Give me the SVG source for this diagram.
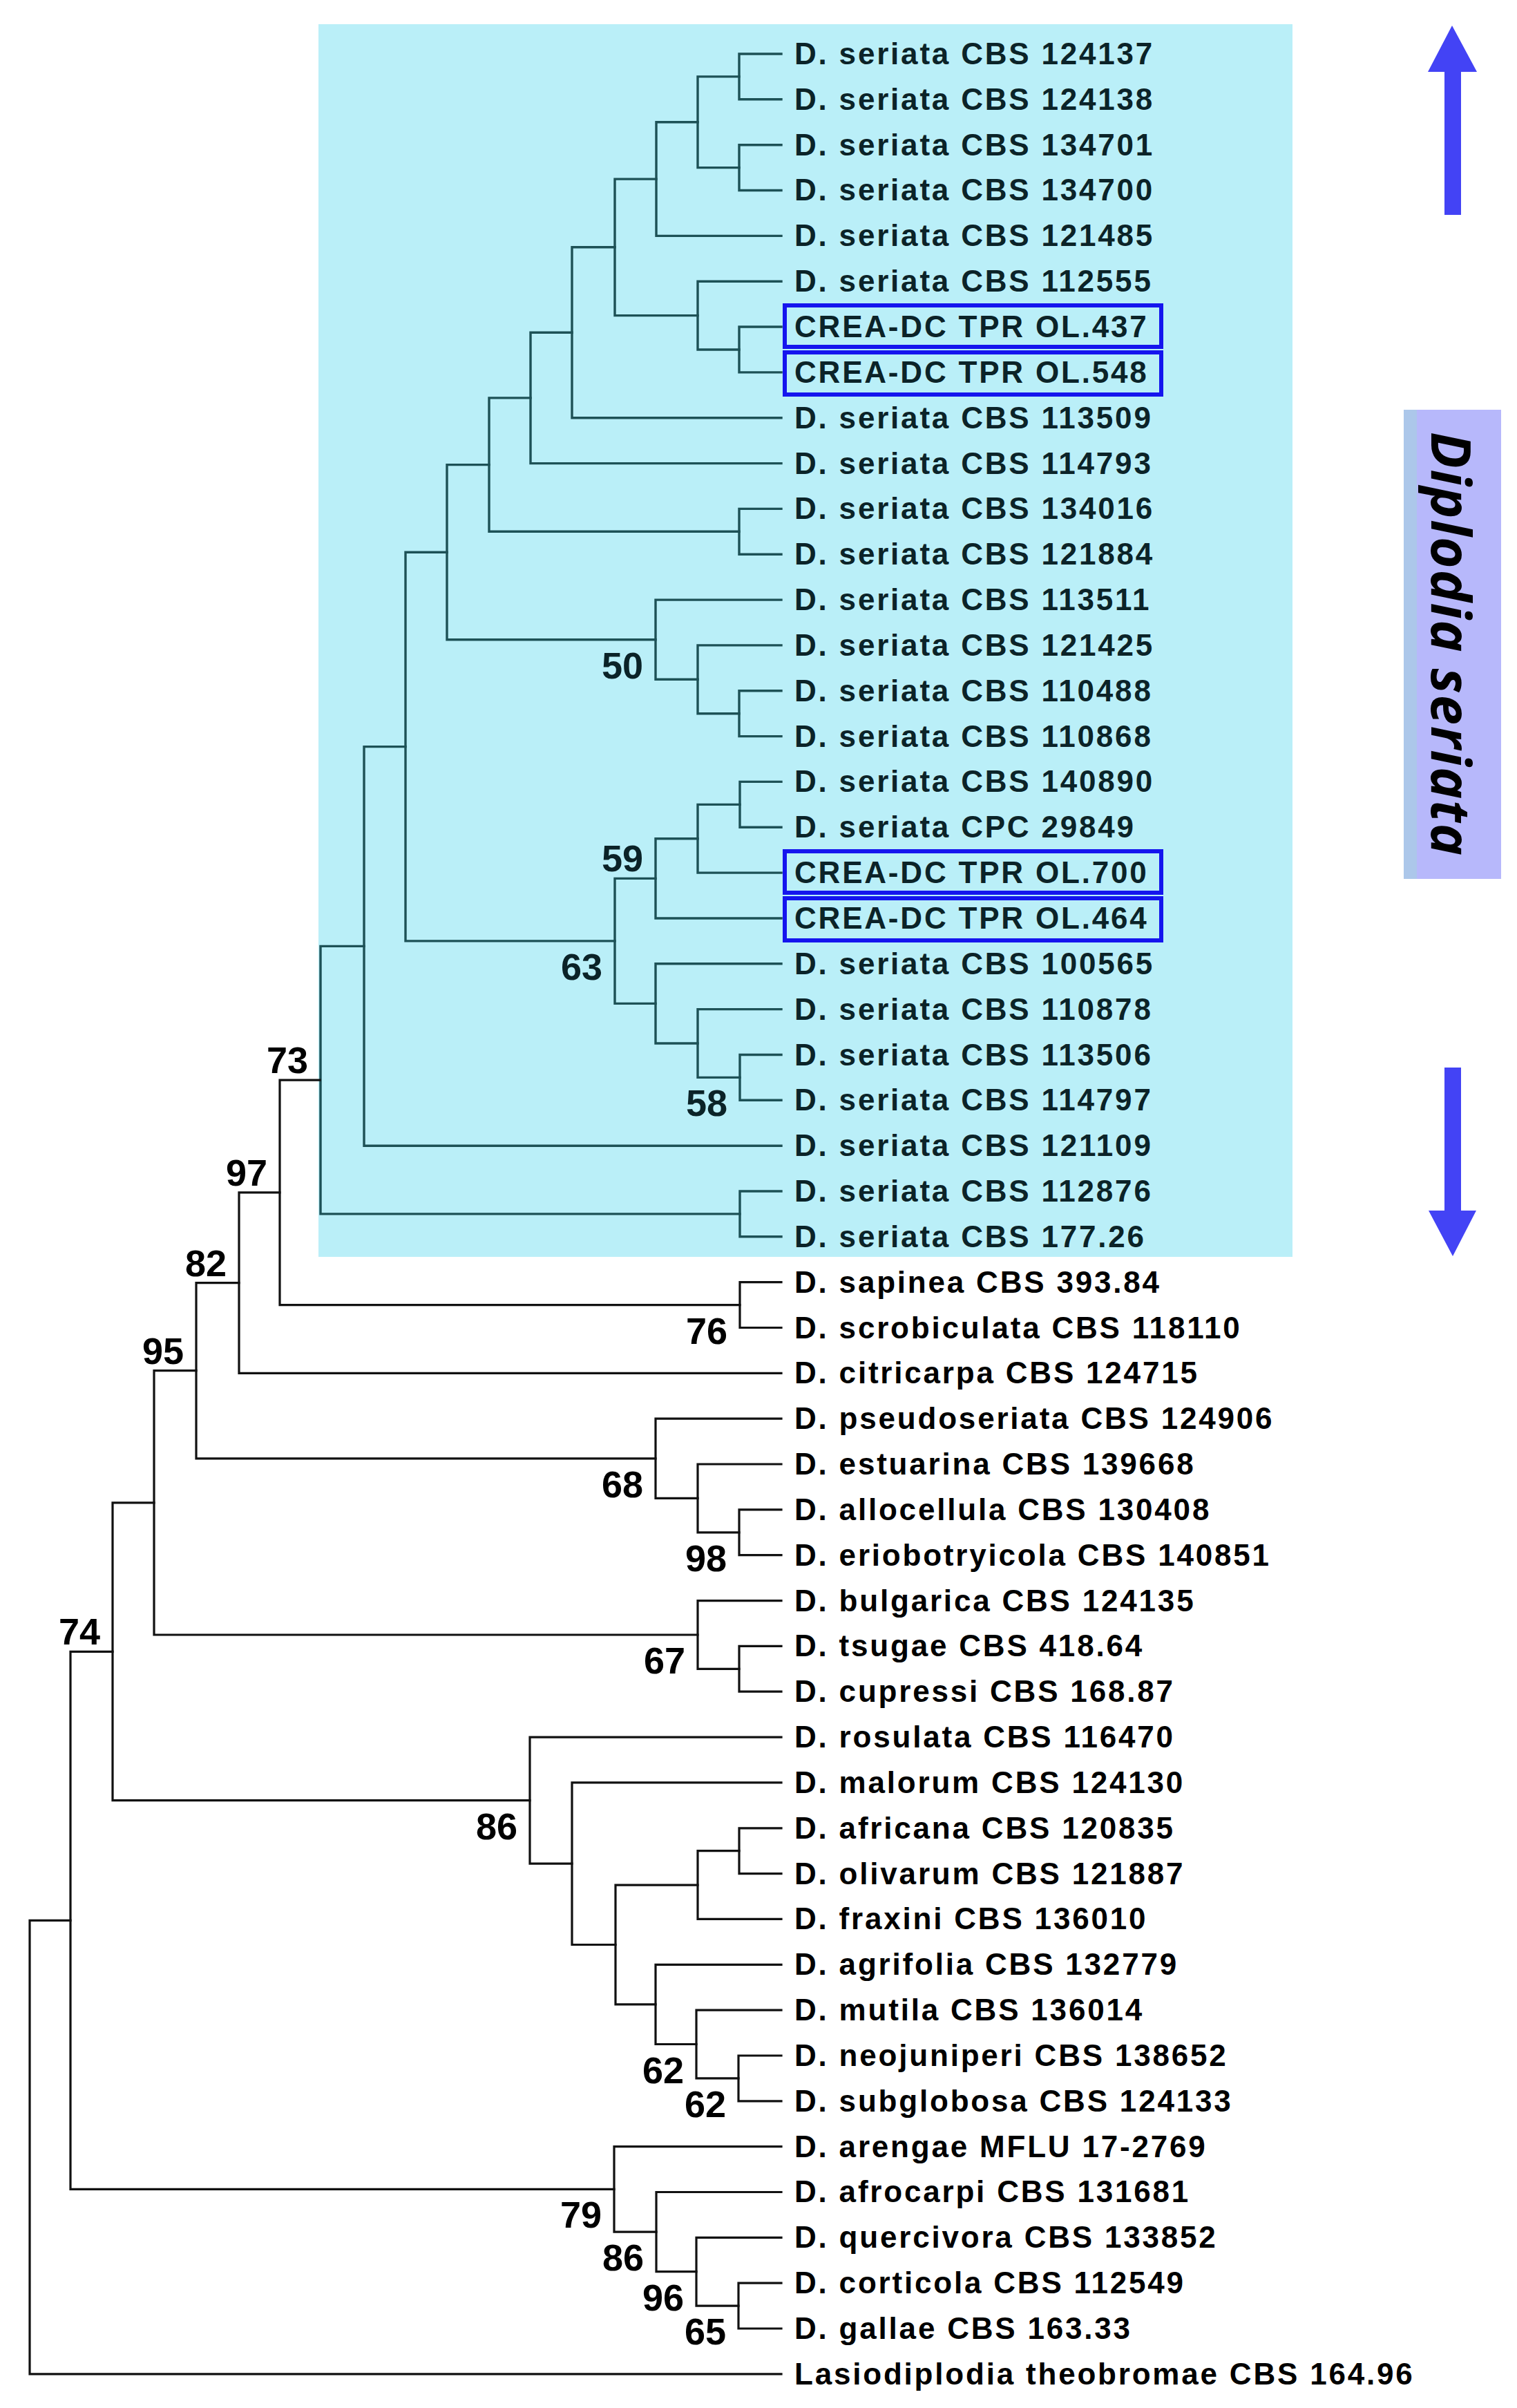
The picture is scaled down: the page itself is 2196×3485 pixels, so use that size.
<svg xmlns="http://www.w3.org/2000/svg" width="2196" height="3485" viewBox="0 0 2196 3485">
<style>
.bg{fill:#ffffff}
.clade{fill:#baeff8}
.ln{fill:none;stroke:#111111;stroke-width:3.2;stroke-linecap:square}
.lc{fill:none;stroke:#1d5156;stroke-width:3.4;stroke-linecap:square}
.lf{font-family:"Liberation Sans",Arial,sans-serif;font-weight:bold;font-size:44px;letter-spacing:2.8px;fill:#000000}
.lfc{font-family:"Liberation Sans",Arial,sans-serif;font-weight:bold;font-size:44px;letter-spacing:2.8px;fill:#0b2328}
.bs{font-family:"Liberation Sans",Arial,sans-serif;font-weight:bold;font-size:54px;fill:#000000;text-anchor:end}
.bsc{font-family:"Liberation Sans",Arial,sans-serif;font-weight:bold;font-size:54px;fill:#0b2328;text-anchor:end}
.box{fill:none;stroke:#1515ee;stroke-width:6}
.arrow{fill:#4343f5}
</style>
<rect class="bg" x="0" y="0" width="2196" height="3485"/>
<rect id="clade-bg" class="clade" x="461" y="35" width="1410" height="1784"/>

<g id="connectors">
<g id="clade-branches">
<path class="lc" d="M1131 78 H1070 V143.8 H1131"/>
<path class="lc" d="M1131 209.7 H1070 V275.5 H1131"/>
<path class="lc" d="M1070 110.9 H1010 V242.6 H1070"/>
<path class="lc" d="M1010 176.8 H950 V341.4 H1131"/>
<path class="lc" d="M1131 473 H1070 V538.9 H1131"/>
<path class="lc" d="M1131 407.2 H1010 V506 H1070"/>
<path class="lc" d="M950 259.1 H890 V456.6 H1010"/>
<path class="lc" d="M890 357.8 H828 V604.7 H1131"/>
<path class="lc" d="M828 481.3 H768 V670.6 H1131"/>
<path class="lc" d="M1131 736.4 H1070 V802.2 H1131"/>
<path class="lc" d="M768 575.9 H708 V769.3 H1070"/>
<path class="lc" d="M1131 999.8 H1070 V1065.6 H1131"/>
<path class="lc" d="M1131 933.9 H1010 V1032.7 H1070"/>
<path class="lc" d="M1131 868.1 H949 V983.3 H1010"/>
<path class="lc" d="M708 672.6 H647 V925.7 H949"/>
<path class="lc" d="M1131 1131.4 H1071 V1197.3 H1131"/>
<path class="lc" d="M1071 1164.4 H1010 V1263.1 H1131"/>
<path class="lc" d="M1010 1213.7 H949 V1329 H1131"/>
<path class="lc" d="M1131 1526.5 H1071 V1592.3 H1131"/>
<path class="lc" d="M1131 1460.6 H1010 V1559.4 H1071"/>
<path class="lc" d="M1131 1394.8 H949 V1510 H1010"/>
<path class="lc" d="M949 1271.4 H890 V1452.4 H949"/>
<path class="lc" d="M647 799.2 H587 V1361.9 H890"/>
<path class="lc" d="M587 1080.6 H527 V1658.2 H1131"/>
<path class="lc" d="M1131 1724 H1071 V1789.8 H1131"/>
<path class="lc" d="M527 1369.4 H464 V1756.9 H1071"/>
</g>
<g id="outer-branches">
<path class="ln" d="M1131 1855.7 H1071 V1921.5 H1131"/>
<path class="ln" d="M463 1563.2 H405 V1888.6 H1071"/>
<path class="ln" d="M405 1725.9 H346 V1987.4 H1131"/>
<path class="ln" d="M1131 2184.9 H1070 V2250.7 H1131"/>
<path class="ln" d="M1131 2119 H1010 V2217.8 H1070"/>
<path class="ln" d="M1131 2053.2 H949 V2168.4 H1010"/>
<path class="ln" d="M346 1856.6 H284 V2110.8 H949"/>
<path class="ln" d="M1131 2382.4 H1070 V2448.2 H1131"/>
<path class="ln" d="M1131 2316.6 H1010 V2415.3 H1070"/>
<path class="ln" d="M284 1983.7 H223 V2366 H1010"/>
<path class="ln" d="M1131 2645.8 H1070 V2711.6 H1131"/>
<path class="ln" d="M1070 2678.7 H1010 V2777.4 H1131"/>
<path class="ln" d="M1131 2975 H1069 V3040.8 H1131"/>
<path class="ln" d="M1131 2909.1 H1008 V3007.9 H1069"/>
<path class="ln" d="M1131 2843.3 H949 V2958.5 H1008"/>
<path class="ln" d="M1010 2728.1 H891 V2900.9 H949"/>
<path class="ln" d="M1131 2579.9 H828 V2814.5 H891"/>
<path class="ln" d="M1131 2514.1 H767 V2697.2 H828"/>
<path class="ln" d="M223 2174.8 H163 V2605.7 H767"/>
<path class="ln" d="M1131 3304.2 H1069 V3370 H1131"/>
<path class="ln" d="M1131 3238.3 H1008 V3337.1 H1069"/>
<path class="ln" d="M1131 3172.5 H950 V3287.7 H1008"/>
<path class="ln" d="M1131 3106.6 H889 V3230.1 H950"/>
<path class="ln" d="M163 2390.3 H102 V3168.4 H889"/>
<path class="ln" d="M102 2779.3 H43 V3435.8 H1131"/>
</g>
</g>

<g id="leaves">
<g id="leaf01"><text class="lfc" x="1150" y="93">D. seriata CBS 124137</text></g>
<g id="leaf02"><text class="lfc" x="1150" y="159">D. seriata CBS 124138</text></g>
<g id="leaf03"><text class="lfc" x="1150" y="225">D. seriata CBS 134701</text></g>
<g id="leaf04"><text class="lfc" x="1150" y="290">D. seriata CBS 134700</text></g>
<g id="leaf05"><text class="lfc" x="1150" y="356">D. seriata CBS 121485</text></g>
<g id="leaf06"><text class="lfc" x="1150" y="422">D. seriata CBS 112555</text></g>
<g id="leaf07"><rect class="box" x="1136" y="442" width="545" height="60"/><text class="lfc" x="1150" y="488">CREA-DC TPR OL.437</text></g>
<g id="leaf08"><rect class="box" x="1136" y="510" width="545" height="61"/><text class="lfc" x="1150" y="554">CREA-DC TPR OL.548</text></g>
<g id="leaf09"><text class="lfc" x="1150" y="620">D. seriata CBS 113509</text></g>
<g id="leaf10"><text class="lfc" x="1150" y="686">D. seriata CBS 114793</text></g>
<g id="leaf11"><text class="lfc" x="1150" y="751">D. seriata CBS 134016</text></g>
<g id="leaf12"><text class="lfc" x="1150" y="817">D. seriata CBS 121884</text></g>
<g id="leaf13"><text class="lfc" x="1150" y="883">D. seriata CBS 113511</text></g>
<g id="leaf14"><text class="lfc" x="1150" y="949">D. seriata CBS 121425</text></g>
<g id="leaf15"><text class="lfc" x="1150" y="1015">D. seriata CBS 110488</text></g>
<g id="leaf16"><text class="lfc" x="1150" y="1081">D. seriata CBS 110868</text></g>
<g id="leaf17"><text class="lfc" x="1150" y="1146">D. seriata CBS 140890</text></g>
<g id="leaf18"><text class="lfc" x="1150" y="1212">D. seriata CPC 29849</text></g>
<g id="leaf19"><rect class="box" x="1136" y="1232" width="545" height="60"/><text class="lfc" x="1150" y="1278">CREA-DC TPR OL.700</text></g>
<g id="leaf20"><rect class="box" x="1136" y="1300" width="545" height="61"/><text class="lfc" x="1150" y="1344">CREA-DC TPR OL.464</text></g>
<g id="leaf21"><text class="lfc" x="1150" y="1410">D. seriata CBS 100565</text></g>
<g id="leaf22"><text class="lfc" x="1150" y="1476">D. seriata CBS 110878</text></g>
<g id="leaf23"><text class="lfc" x="1150" y="1542">D. seriata CBS 113506</text></g>
<g id="leaf24"><text class="lfc" x="1150" y="1607">D. seriata CBS 114797</text></g>
<g id="leaf25"><text class="lfc" x="1150" y="1673">D. seriata CBS 121109</text></g>
<g id="leaf26"><text class="lfc" x="1150" y="1739">D. seriata CBS 112876</text></g>
<g id="leaf27"><text class="lfc" x="1150" y="1805">D. seriata CBS 177.26</text></g>
<g id="leaf28"><text class="lf" x="1150" y="1871">D. sapinea CBS 393.84</text></g>
<g id="leaf29"><text class="lf" x="1150" y="1937">D. scrobiculata CBS 118110</text></g>
<g id="leaf30"><text class="lf" x="1150" y="2002">D. citricarpa CBS 124715</text></g>
<g id="leaf31"><text class="lf" x="1150" y="2068">D. pseudoseriata CBS 124906</text></g>
<g id="leaf32"><text class="lf" x="1150" y="2134">D. estuarina CBS 139668</text></g>
<g id="leaf33"><text class="lf" x="1150" y="2200">D. allocellula CBS 130408</text></g>
<g id="leaf34"><text class="lf" x="1150" y="2266">D. eriobotryicola CBS 140851</text></g>
<g id="leaf35"><text class="lf" x="1150" y="2332">D. bulgarica CBS 124135</text></g>
<g id="leaf36"><text class="lf" x="1150" y="2397">D. tsugae CBS 418.64</text></g>
<g id="leaf37"><text class="lf" x="1150" y="2463">D. cupressi CBS 168.87</text></g>
<g id="leaf38"><text class="lf" x="1150" y="2529">D. rosulata CBS 116470</text></g>
<g id="leaf39"><text class="lf" x="1150" y="2595">D. malorum CBS 124130</text></g>
<g id="leaf40"><text class="lf" x="1150" y="2661">D. africana CBS 120835</text></g>
<g id="leaf41"><text class="lf" x="1150" y="2727">D. olivarum CBS 121887</text></g>
<g id="leaf42"><text class="lf" x="1150" y="2792">D. fraxini CBS 136010</text></g>
<g id="leaf43"><text class="lf" x="1150" y="2858">D. agrifolia CBS 132779</text></g>
<g id="leaf44"><text class="lf" x="1150" y="2924">D. mutila CBS 136014</text></g>
<g id="leaf45"><text class="lf" x="1150" y="2990">D. neojuniperi CBS 138652</text></g>
<g id="leaf46"><text class="lf" x="1150" y="3056">D. subglobosa CBS 124133</text></g>
<g id="leaf47"><text class="lf" x="1150" y="3122">D. arengae MFLU 17-2769</text></g>
<g id="leaf48"><text class="lf" x="1150" y="3187">D. afrocarpi CBS 131681</text></g>
<g id="leaf49"><text class="lf" x="1150" y="3253">D. quercivora CBS 133852</text></g>
<g id="leaf50"><text class="lf" x="1150" y="3319">D. corticola CBS 112549</text></g>
<g id="leaf51"><text class="lf" x="1150" y="3385">D. gallae CBS 163.33</text></g>
<g id="leaf52"><text class="lf" x="1150" y="3451">Lasiodiplodia theobromae CBS 164.96</text></g>
</g>

<g id="support-values">
<g id="bs50"><text class="bsc" x="931" y="982">50</text></g>
<g id="bs59"><text class="bsc" x="931" y="1261">59</text></g>
<g id="bs63"><text class="bsc" x="872" y="1418">63</text></g>
<g id="bs58"><text class="bsc" x="1053" y="1615">58</text></g>
<g id="bs73"><text class="bs" x="446" y="1553">73</text></g>
<g id="bs97"><text class="bs" x="387" y="1716">97</text></g>
<g id="bs82"><text class="bs" x="328" y="1847">82</text></g>
<g id="bs95"><text class="bs" x="266" y="1974">95</text></g>
<g id="bs76"><text class="bs" x="1053" y="1945">76</text></g>
<g id="bs68"><text class="bs" x="931" y="2167">68</text></g>
<g id="bs98"><text class="bs" x="1052" y="2274">98</text></g>
<g id="bs67"><text class="bs" x="992" y="2422">67</text></g>
<g id="bs74"><text class="bs" x="145" y="2380">74</text></g>
<g id="bs86a"><text class="bs" x="749" y="2662">86</text></g>
<g id="bs62a"><text class="bs" x="990" y="3015">62</text></g>
<g id="bs62b"><text class="bs" x="1051" y="3064">62</text></g>
<g id="bs79"><text class="bs" x="871" y="3224">79</text></g>
<g id="bs86b"><text class="bs" x="932" y="3286">86</text></g>
<g id="bs96"><text class="bs" x="990" y="3344">96</text></g>
<g id="bs65"><text class="bs" x="1051" y="3393">65</text></g>
</g>

<g id="clade-label">
<rect x="2032" y="593" width="141" height="679" fill="#b7b8fb"/>
<rect x="2032" y="593" width="19" height="679" fill="#acc7ea"/>
<text transform="translate(2072,625) rotate(90)" x="0" y="0" font-family="'Open Sans','Noto Sans',sans-serif" font-weight="bold" font-style="italic" font-size="78" textLength="613" lengthAdjust="spacing" fill="#000000">Diplodia seriata</text>
</g>
<g id="arrow-up"><path class="arrow" d="M2102 37 L2138 104 L2115 104 L2115 311 L2091 311 L2091 104 L2067 104 Z"/></g>
<g id="arrow-down"><path class="arrow" d="M2091 1545 L2115 1545 L2115 1752 L2137 1752 L2103 1818 L2068 1752 L2091 1752 Z"/></g>
</svg>
